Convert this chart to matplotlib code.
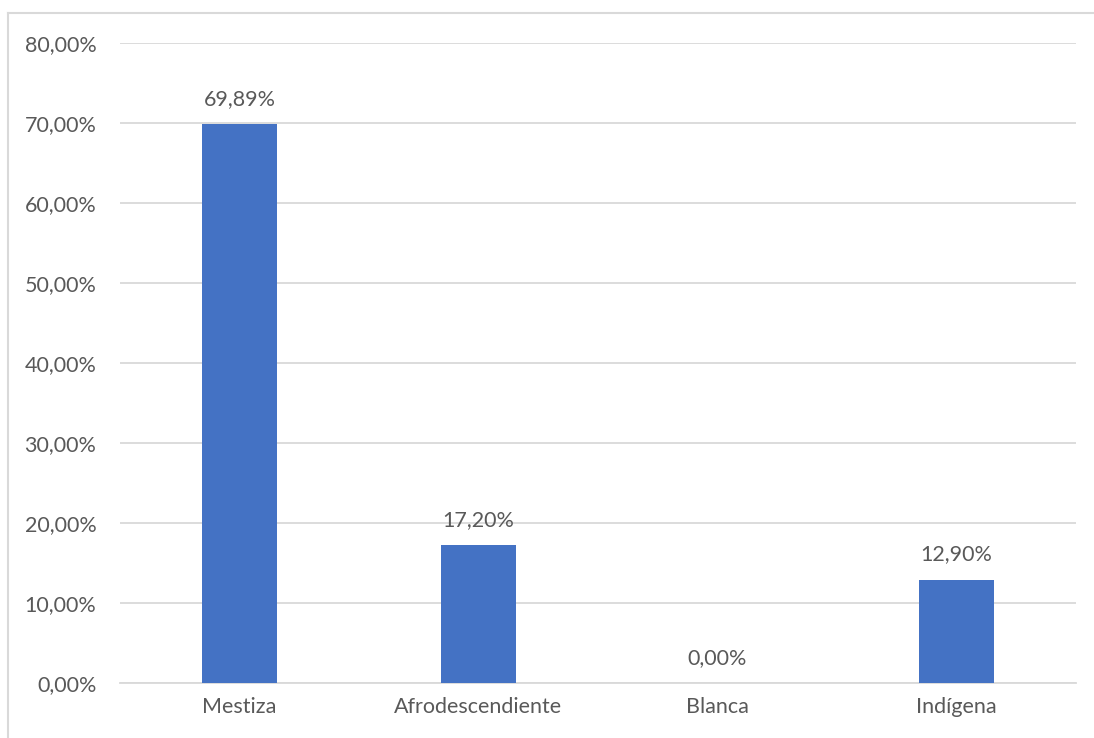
import matplotlib
matplotlib.use("Agg")
import matplotlib.pyplot as plt
from matplotlib.lines import Line2D

categories = ["Mestiza", "Afrodescendiente", "Blanca", "Indígena"]
values = [0.6989, 0.1720, 0.0000, 0.1290]
labels = ["69,89%", "17,20%", "0,00%", "12,90%"]
yticks = [0.0, 0.1, 0.2, 0.3, 0.4, 0.5, 0.6, 0.7, 0.8]
ytick_labels = ["0,00%", "10,00%", "20,00%", "30,00%", "40,00%", "50,00%", "60,00%", "70,00%", "80,00%"]

W, H = 1094, 738
fig = plt.figure(figsize=(W / 100, H / 100), dpi=100)
plt.rcParams['font.family'] = ['Lato', 'DejaVu Sans']
txt = "#595959"
grid = "#D9D9D9"
fs = 15.5

ax = fig.add_axes([120 / W, 1 - 683 / H, (1076 - 120) / W, (683 - 43) / H])
x = list(range(len(categories)))
ax.bar(x, values, width=0.313, color="#4472C4", zorder=3)
ax.set_xlim(-0.5, len(categories) - 0.5)
ax.set_ylim(0, 0.8)
ax.set_yticks(yticks)
ax.set_yticklabels(ytick_labels, fontsize=fs, color=txt)
ax.set_xticks(x)
ax.set_xticklabels(categories, fontsize=fs, color=txt)
ax.tick_params(axis='both', length=0)
ax.tick_params(axis='y', pad=17)
ax.tick_params(axis='x', pad=10)
ax.grid(axis='y', color=grid, linewidth=1.3, zorder=0)
for s in ["top", "right", "left"]:
    ax.spines[s].set_visible(False)
ax.spines["bottom"].set_color(grid)
ax.spines["bottom"].set_linewidth(1.3)

for xi, v, lab in zip(x, values, labels):
    ax.annotate(lab, (xi, v), xytext=(0, 11), textcoords="offset points",
                ha="center", va="bottom", fontsize=fs, color=txt)

fig.lines.append(Line2D([8 / W, 8 / W], [0, 1 - 13 / H], transform=fig.transFigure,
                        color=grid, linewidth=1.5))
fig.lines.append(Line2D([8 / W, 1], [1 - 13 / H, 1 - 13 / H], transform=fig.transFigure,
                        color=grid, linewidth=1.5))

fig.savefig("out.png", dpi=100)
